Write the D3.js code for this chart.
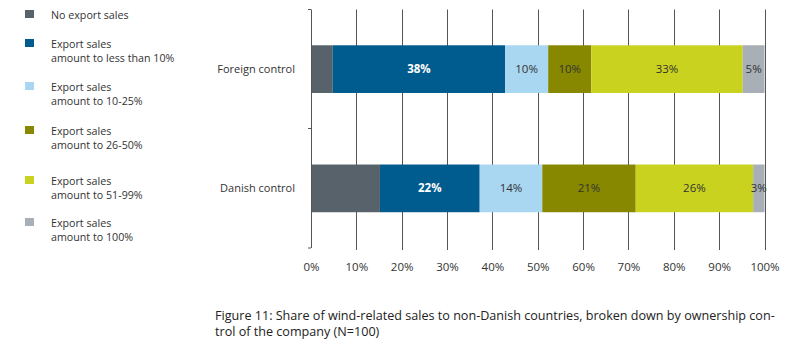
<!DOCTYPE html>
<html><head><meta charset="utf-8">
<script src="https://cdn.jsdelivr.net/npm/d3@7"></script>
<style>
body{margin:0;background:#fff;}
svg{display:block;font-family:"Open Sans",sans-serif;}
</style></head>
<body>
<svg id="c" width="800" height="349"></svg>
<script>
const categories = ["Foreign control", "Danish control"];
const seriesNames = ["No export sales", "Export sales amount to less than 10%", "Export sales amount to 10-25%", "Export sales amount to 26-50%", "Export sales amount to 51-99%", "Export sales amount to 100%"];
const legendLines = [["No export sales"], ["Export sales", "amount to less than 10%"], ["Export sales", "amount to 10-25%"], ["Export sales", "amount to 26-50%"], ["Export sales", "amount to 51-99%"], ["Export sales", "amount to 100%"]];
const foreignValues = [4.8, 38.0, 9.5, 9.5, 33.4, 4.8];
const danishValues = [15.2, 22.0, 13.8, 20.6, 25.9, 2.5];
const foreignLabels = ["", "38%", "10%", "10%", "33%", "5%"];
const danishLabels = ["", "22%", "14%", "21%", "26%", "3%"];
const xTicks = [0, 10, 20, 30, 40, 50, 60, 70, 80, 90, 100];
const colors = ["#58626a", "#005b8f", "#a9d6f0", "#878700", "#c9d21f", "#a8afb6"];
const captionLines = ["Figure 11: Share of wind-related sales to non-Danish countries, broken down by ownership con-", "trol of the company (N=100)"];

const svg = d3.select("#c");
const x = d3.scaleLinear().domain([0, 100]).range([311, 764.5]);
const y = d3.scaleBand().domain(categories).range([9.5, 248]).padding(0);
const barH = y.bandwidth() * 0.4;

// gridlines
svg.append("g").selectAll("line").data(xTicks.slice(1)).join("line")
  .attr("x1", d => Math.round(x(d)) + 0.5).attr("x2", d => Math.round(x(d)) + 0.5)
  .attr("y1", 9.5).attr("y2", 250)
  .attr("stroke", "#555").attr("stroke-width", 1);

// stacked bars
const rows = [
  {cat: categories[0], vals: foreignValues, labels: foreignLabels},
  {cat: categories[1], vals: danishValues, labels: danishLabels}
];
rows.forEach(r => {
  let acc = 0;
  const segs = r.vals.map((v, i) => { const s = {x0: acc, x1: acc + v, i, label: r.labels[i]}; acc += v; return s; });
  const g = svg.append("g");
  const yc = y(r.cat) + y.bandwidth() / 2;
  g.selectAll("rect").data(segs).join("rect")
    .attr("x", d => x(d.x0)).attr("width", d => x(d.x1) - x(d.x0))
    .attr("y", yc - barH / 2).attr("height", barH)
    .attr("fill", d => colors[d.i]);
  g.selectAll("text").data(segs.filter(d => d.label)).join("text")
    .attr("x", d => (x(d.x0) + x(d.x1)) / 2).attr("y", yc + 4)
    .attr("text-anchor", "middle")
    .attr("font-size", 11.5)
    .attr("font-weight", d => d.i === 1 ? 700 : 400)
    .attr("fill", d => d.i === 1 ? "#fff" : "#333")
    .text(d => d.label);
});

// y axis
const yAxis = d3.axisLeft(y).tickSize(0).tickPadding(16);
const ya = svg.append("g").attr("transform", "translate(311,0)").call(yAxis);
ya.select(".domain").attr("stroke", "#555").attr("d", "M0.5,9.5V248");
ya.selectAll("text").attr("font-family", "Open Sans").attr("font-size", 11).attr("fill", "#333");
// boundary ticks
svg.append("g").selectAll("line").data([9.5, 128.5, 248]).join("line")
  .attr("x1", 308).attr("x2", 311).attr("y1", d => d).attr("y2", d => d)
  .attr("stroke", "#555");

// x axis labels
const xAxis = d3.axisBottom(x).tickValues(xTicks).tickSize(0).tickPadding(0).tickFormat(d => d + "%");
const xa = svg.append("g").attr("transform", "translate(0,263)").call(xAxis);
xa.select(".domain").remove();
xa.selectAll("text").attr("font-family", "Open Sans").attr("font-size", 11.5).attr("fill", "#333");

// legend
const legendY = [13.5, 42.5, 85.5, 129.5, 179.5, 221.5];
const lg = svg.append("g");
legendLines.forEach((lines, i) => {
  lg.append("rect").attr("x", 25).attr("y", legendY[i] - 3.5).attr("width", 9).attr("height", 8).attr("fill", colors[i]);
  lines.forEach((t, j) => {
    lg.append("text").attr("x", 51).attr("y", legendY[i] + 5 + j * 14.3)
      .attr("font-size", 10.7).attr("fill", "#333").text(t);
  });
});

// caption
captionLines.forEach((t, j) => {
  svg.append("text").attr("x", 215).attr("y", 320 + j * 16)
    .attr("font-size", 12.6).attr("fill", "#222").text(t);
});
</script>
</body></html>
